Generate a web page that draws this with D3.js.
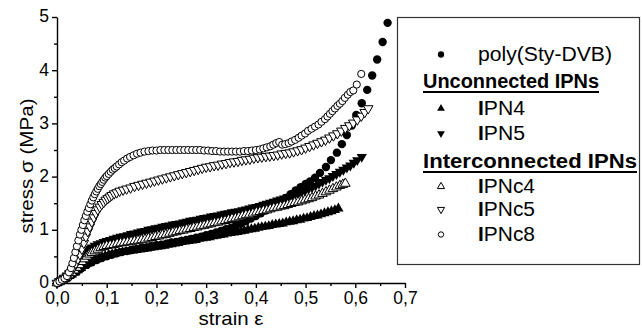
<!DOCTYPE html>
<html><head><meta charset="utf-8">
<script src="https://cdn.jsdelivr.net/npm/d3@7"></script>
<style>body{margin:0;background:#fff}svg{display:block}</style>
</head><body>
<svg id="chart" width="642" height="330"></svg>
<script>
// ---------- data (strain, stress in MPa) ----------
const xTickValues = [0, 0.1, 0.2, 0.3, 0.4, 0.5, 0.6, 0.7];
const xTickLabels = ["0,0", "0,1", "0,2", "0,3", "0,4", "0,5", "0,6", "0,7"];
const yTickValues = [0, 1, 2, 3, 4, 5];
const yTickLabels = ["0", "1", "2", "3", "4", "5"];

const polyStyDVB = [[0,0],[0.01,0.04],[0.02,0.09],[0.03,0.15],[0.04,0.21],[0.05,0.28],[0.06,0.34],[0.07,0.39],[0.08,0.43],[0.09,0.47],[0.10,0.50],[0.11,0.53],[0.12,0.56],[0.13,0.58],[0.14,0.60],[0.15,0.62],[0.16,0.64],[0.17,0.66],[0.18,0.67],[0.19,0.69],[0.20,0.71],[0.21,0.72],[0.22,0.74],[0.23,0.76],[0.24,0.77],[0.25,0.79],[0.26,0.81],[0.27,0.83],[0.28,0.85],[0.29,0.87],[0.30,0.90],[0.31,0.92],[0.32,0.95],[0.33,0.98],[0.34,1.01],[0.35,1.04],[0.36,1.08],[0.37,1.12],[0.38,1.16],[0.39,1.21],[0.40,1.26],[0.41,1.31],[0.42,1.36],[0.43,1.42],[0.44,1.48],[0.45,1.54],[0.46,1.60],[0.47,1.67],[0.48,1.74],[0.49,1.80],[0.500,1.86],[0.509,1.91],[0.519,1.98],[0.529,2.07],[0.541,2.18],[0.551,2.31],[0.563,2.45],[0.573,2.61],[0.583,2.78],[0.593,2.96],[0.602,3.16],[0.613,3.38],[0.624,3.63],[0.634,3.90],[0.644,4.20],[0.655,4.53],[0.665,4.89]];

const ipn4 = [[0,0],[0.006,0.03],[0.012,0.06],[0.018,0.09],[0.024,0.13],[0.030,0.16],[0.036,0.20],[0.042,0.24],[0.048,0.28],[0.054,0.32],[0.060,0.36],[0.066,0.39],[0.072,0.42],[0.078,0.44],[0.084,0.47],[0.090,0.49],[0.097,0.51],[0.104,0.53],[0.111,0.54],[0.118,0.56],[0.125,0.57],[0.132,0.58],[0.139,0.59],[0.146,0.60],[0.153,0.61],[0.160,0.62],[0.167,0.63],[0.174,0.64],[0.181,0.65],[0.188,0.66],[0.195,0.67],[0.202,0.68],[0.209,0.69],[0.216,0.70],[0.223,0.72],[0.230,0.73],[0.237,0.74],[0.244,0.75],[0.251,0.77],[0.258,0.78],[0.265,0.79],[0.272,0.80],[0.279,0.81],[0.286,0.83],[0.293,0.84],[0.300,0.85],[0.307,0.86],[0.314,0.88],[0.321,0.89],[0.328,0.90],[0.335,0.91],[0.342,0.93],[0.349,0.94],[0.356,0.95],[0.363,0.96],[0.370,0.97],[0.377,0.98],[0.384,1.00],[0.391,1.01],[0.398,1.02],[0.405,1.04],[0.412,1.05],[0.419,1.06],[0.426,1.07],[0.433,1.09],[0.440,1.10],[0.447,1.11],[0.454,1.12],[0.461,1.14],[0.468,1.15],[0.475,1.16],[0.482,1.18],[0.489,1.19],[0.496,1.21],[0.503,1.22],[0.510,1.24],[0.517,1.26],[0.524,1.27],[0.531,1.29],[0.538,1.31],[0.545,1.33],[0.552,1.35],[0.559,1.37],[0.566,1.40]];

const ipn5 = [[0,0],[0.005,0.03],[0.010,0.06],[0.015,0.10],[0.020,0.14],[0.025,0.19],[0.030,0.25],[0.035,0.31],[0.040,0.38],[0.045,0.44],[0.050,0.50],[0.055,0.55],[0.060,0.60],[0.065,0.64],[0.070,0.67],[0.076,0.70],[0.082,0.73],[0.088,0.75],[0.094,0.77],[0.100,0.79],[0.107,0.81],[0.114,0.83],[0.121,0.85],[0.128,0.87],[0.135,0.88],[0.142,0.90],[0.149,0.92],[0.156,0.93],[0.163,0.95],[0.170,0.97],[0.177,0.98],[0.184,1.00],[0.191,1.01],[0.198,1.03],[0.205,1.04],[0.212,1.06],[0.219,1.07],[0.226,1.08],[0.233,1.10],[0.240,1.11],[0.247,1.12],[0.254,1.14],[0.261,1.15],[0.268,1.17],[0.275,1.18],[0.282,1.19],[0.289,1.21],[0.296,1.22],[0.303,1.23],[0.310,1.25],[0.317,1.26],[0.324,1.27],[0.331,1.29],[0.338,1.30],[0.345,1.31],[0.352,1.33],[0.359,1.34],[0.366,1.35],[0.373,1.37],[0.380,1.38],[0.387,1.40],[0.394,1.42],[0.401,1.43],[0.408,1.45],[0.415,1.47],[0.422,1.49],[0.429,1.51],[0.436,1.53],[0.443,1.55],[0.450,1.57],[0.457,1.59],[0.464,1.61],[0.471,1.63],[0.478,1.66],[0.485,1.68],[0.492,1.71],[0.499,1.74],[0.506,1.77],[0.513,1.80],[0.520,1.83],[0.527,1.87],[0.534,1.90],[0.541,1.94],[0.548,1.97],[0.555,2.01],[0.562,2.05],[0.569,2.09],[0.576,2.13],[0.583,2.17],[0.590,2.21],[0.597,2.26],[0.604,2.31],[0.613,2.37]];

const ipnc4 = [[0,0],[0.005,0.02],[0.010,0.05],[0.015,0.08],[0.020,0.11],[0.025,0.15],[0.030,0.19],[0.035,0.24],[0.040,0.29],[0.045,0.34],[0.050,0.40],[0.055,0.45],[0.060,0.50],[0.065,0.54],[0.070,0.57],[0.076,0.60],[0.082,0.63],[0.088,0.66],[0.094,0.68],[0.100,0.70],[0.107,0.71],[0.114,0.72],[0.121,0.74],[0.128,0.75],[0.135,0.76],[0.142,0.77],[0.149,0.78],[0.156,0.79],[0.163,0.80],[0.170,0.81],[0.177,0.82],[0.184,0.84],[0.191,0.85],[0.198,0.87],[0.205,0.88],[0.212,0.90],[0.219,0.91],[0.226,0.93],[0.233,0.95],[0.240,0.96],[0.247,0.98],[0.254,0.99],[0.261,1.01],[0.268,1.02],[0.275,1.04],[0.282,1.05],[0.289,1.07],[0.296,1.08],[0.303,1.10],[0.310,1.11],[0.317,1.13],[0.324,1.14],[0.331,1.16],[0.338,1.17],[0.345,1.19],[0.352,1.21],[0.359,1.22],[0.366,1.24],[0.373,1.26],[0.380,1.28],[0.387,1.29],[0.394,1.31],[0.401,1.33],[0.408,1.34],[0.415,1.36],[0.422,1.37],[0.429,1.39],[0.436,1.41],[0.443,1.42],[0.450,1.44],[0.457,1.45],[0.464,1.47],[0.471,1.49],[0.478,1.51],[0.485,1.52],[0.492,1.54],[0.499,1.56],[0.506,1.58],[0.513,1.60],[0.520,1.63],[0.527,1.65],[0.534,1.68],[0.541,1.71],[0.548,1.74],[0.555,1.77],[0.562,1.80],[0.569,1.83],[0.575,1.85],[0.580,1.87]];

const ipnc5 = [[0,0],[0.005,0.03],[0.010,0.06],[0.015,0.09],[0.020,0.12],[0.025,0.17],[0.030,0.23],[0.034,0.30],[0.038,0.37],[0.042,0.45],[0.046,0.54],[0.050,0.64],[0.054,0.75],[0.058,0.87],[0.062,0.97],[0.066,1.06],[0.070,1.15],[0.074,1.23],[0.078,1.31],[0.082,1.38],[0.086,1.43],[0.090,1.48],[0.094,1.52],[0.098,1.56],[0.102,1.59],[0.106,1.62],[0.110,1.65],[0.115,1.68],[0.120,1.70],[0.126,1.73],[0.133,1.75],[0.140,1.77],[0.148,1.79],[0.156,1.82],[0.164,1.84],[0.172,1.86],[0.180,1.88],[0.188,1.90],[0.196,1.92],[0.204,1.94],[0.212,1.96],[0.220,1.98],[0.228,2.00],[0.236,2.02],[0.244,2.04],[0.252,2.06],[0.260,2.08],[0.268,2.10],[0.276,2.12],[0.284,2.14],[0.292,2.16],[0.300,2.18],[0.308,2.19],[0.316,2.21],[0.324,2.22],[0.332,2.24],[0.340,2.25],[0.348,2.27],[0.356,2.28],[0.364,2.29],[0.372,2.31],[0.380,2.32],[0.388,2.33],[0.396,2.35],[0.404,2.36],[0.412,2.37],[0.420,2.38],[0.428,2.39],[0.436,2.40],[0.444,2.41],[0.452,2.43],[0.460,2.44],[0.468,2.45],[0.476,2.47],[0.484,2.49],[0.492,2.51],[0.500,2.54],[0.508,2.57],[0.516,2.60],[0.524,2.63],[0.532,2.66],[0.540,2.69],[0.548,2.73],[0.556,2.77],[0.564,2.81],[0.572,2.86],[0.580,2.91],[0.588,2.96],[0.596,3.01],[0.604,3.07],[0.612,3.14],[0.619,3.21],[0.626,3.28]];

const ipnc8 = [[0,0],[0.005,0.03],[0.010,0.06],[0.015,0.09],[0.020,0.13],[0.024,0.20],[0.028,0.28],[0.031,0.37],[0.034,0.47],[0.037,0.58],[0.040,0.69],[0.043,0.80],[0.046,0.91],[0.049,1.00],[0.052,1.09],[0.055,1.18],[0.058,1.26],[0.061,1.34],[0.064,1.41],[0.067,1.48],[0.070,1.55],[0.073,1.61],[0.076,1.67],[0.079,1.72],[0.082,1.77],[0.085,1.82],[0.088,1.86],[0.091,1.90],[0.094,1.94],[0.097,1.98],[0.100,2.01],[0.104,2.05],[0.108,2.09],[0.112,2.13],[0.116,2.16],[0.120,2.19],[0.125,2.23],[0.130,2.27],[0.135,2.30],[0.141,2.34],[0.147,2.37],[0.154,2.40],[0.161,2.43],[0.168,2.45],[0.176,2.47],[0.184,2.48],[0.192,2.49],[0.200,2.49],[0.208,2.50],[0.216,2.50],[0.224,2.50],[0.232,2.50],[0.240,2.50],[0.248,2.50],[0.256,2.50],[0.264,2.50],[0.272,2.50],[0.280,2.50],[0.288,2.50],[0.296,2.49],[0.304,2.49],[0.312,2.48],[0.320,2.48],[0.328,2.47],[0.336,2.47],[0.344,2.47],[0.352,2.47],[0.360,2.47],[0.368,2.47],[0.376,2.48],[0.384,2.48],[0.392,2.49],[0.400,2.50],[0.408,2.51],[0.415,2.53],[0.422,2.55],[0.429,2.57],[0.435,2.60],[0.441,2.63],[0.447,2.65],[0.453,2.60],[0.459,2.61],[0.466,2.63],[0.472,2.66],[0.479,2.69],[0.486,2.73],[0.492,2.77],[0.499,2.81],[0.505,2.86],[0.512,2.90],[0.519,2.94],[0.526,2.98],[0.532,3.03],[0.539,3.08],[0.544,3.13],[0.549,3.18],[0.554,3.23],[0.559,3.28],[0.564,3.33],[0.569,3.37],[0.574,3.42],[0.579,3.48],[0.585,3.54],[0.590,3.59],[0.596,3.62],[0.603,3.73],[0.612,3.93]];

const seriesNames = ["poly(Sty-DVB)", "IPN4", "IPN5", "IPNc4", "IPNc5", "IPNc8"];
const legendHeaders = ["Unconnected IPNs", "Interconnected IPNs"];

// ---------- drawing ----------
const FONT = "'Liberation Sans', Arial, Helvetica, sans-serif";
const svg = d3.select("#chart");
const x = d3.scaleLinear().domain([0, 0.7]).range([57, 405]);
const y = d3.scaleLinear().domain([0, 5]).range([283, 17]);

// minor ticks
const xMinor = d3.range(0.05, 0.7, 0.1);
const yMinor = d3.range(0.5, 5, 1);
svg.append("g").attr("transform", "translate(0,283)")
  .call(d3.axisBottom(x).tickValues(xMinor).tickSize(3).tickFormat(""))
  .call(g => g.select(".domain").remove());
svg.append("g").attr("transform", "translate(57,0)")
  .call(d3.axisLeft(y).tickValues(yMinor).tickSize(3).tickFormat(""))
  .call(g => g.select(".domain").remove());

const gx = svg.append("g").attr("transform", "translate(0,283)")
  .call(d3.axisBottom(x).tickValues(xTickValues).tickSize(5).tickSizeOuter(0)
    .tickPadding(4).tickFormat((d, i) => xTickLabels[i]));
const gy = svg.append("g").attr("transform", "translate(57,0)")
  .call(d3.axisLeft(y).tickValues(yTickValues).tickSize(5).tickSizeOuter(0)
    .tickPadding(3).tickFormat((d, i) => yTickLabels[i]));
[gx, gy].forEach(g => {
  g.selectAll("text").attr("font-family", FONT).attr("font-size", 17.5).attr("fill", "#000");
  g.selectAll("path").attr("stroke", "#000").attr("stroke-width", 1.4);
});
gy.selectAll("text").attr("dy", "0.28em");
svg.selectAll("g line").attr("stroke", "#000").attr("stroke-width", 1.4);

svg.append("text").attr("x", 231).attr("y", 325).attr("text-anchor", "middle")
  .attr("font-family", FONT).attr("font-size", 19)
  .attr("textLength", 65).attr("lengthAdjust", "spacingAndGlyphs").text("strain ε");
svg.append("text").attr("transform", "translate(33,166) rotate(-90)").attr("text-anchor", "middle")
  .attr("font-family", FONT).attr("font-size", 19)
  .attr("textLength", 135).attr("lengthAdjust", "spacingAndGlyphs").text("stress σ (MPa)");

// markers
const triFilled = d3.symbol().type(d3.symbolTriangle).size(46)();
const triOpen = d3.symbol().type(d3.symbolTriangle).size(40)();
const styles = {
  "poly(Sty-DVB)": {shape: "circle", r: 4.2, fill: "#000", stroke: "none"},
  "IPN4": {shape: "tri", rot: 0, path: triFilled, fill: "#000", stroke: "none"},
  "IPN5": {shape: "tri", rot: 180, path: triFilled, fill: "#000", stroke: "none"},
  "IPNc4": {shape: "tri", rot: 0, path: triOpen, fill: "#fff", stroke: "#000"},
  "IPNc5": {shape: "tri", rot: 180, path: triOpen, fill: "#fff", stroke: "#000"},
  "IPNc8": {shape: "circle", r: 3.6, fill: "#fff", stroke: "#000"}
};
const dataByName = {
  "poly(Sty-DVB)": polyStyDVB, "IPN4": ipn4, "IPN5": ipn5,
  "IPNc4": ipnc4, "IPNc5": ipnc5, "IPNc8": ipnc8
};
const drawOrder = ["poly(Sty-DVB)", "IPN4", "IPN5", "IPNc4", "IPNc5", "IPNc8"];

function drawMarker(g, st, cx, cy, scale) {
  if (st.shape === "circle") {
    g.append("circle").attr("cx", cx).attr("cy", cy).attr("r", st.r * scale)
      .attr("fill", st.fill).attr("stroke", st.stroke).attr("stroke-width", 1);
  } else {
    g.append("path").attr("d", st.path)
      .attr("transform", `translate(${cx},${cy}) rotate(${st.rot}) scale(${scale})`)
      .attr("fill", st.fill).attr("stroke", st.stroke).attr("stroke-width", 1 / scale);
  }
}

const plot = svg.append("g");
drawOrder.forEach(name => {
  const st = styles[name];
  const g = plot.append("g").attr("class", "series");
  dataByName[name].forEach(d => drawMarker(g, st, x(d[0]), y(d[1]), 1));
});

// legend
const lg = svg.append("g");
lg.append("rect").attr("x", 397.5).attr("y", 17.5).attr("width", 242).attr("height", 247)
  .attr("fill", "#fff").attr("stroke", "#333").attr("stroke-width", 1.2);
const rows = [
  {type: "item", name: seriesNames[0], base: 61, len: 134},
  {type: "header", name: legendHeaders[0], base: 88, len: 176},
  {type: "item", name: seriesNames[1], base: 115, len: 47},
  {type: "item", name: seriesNames[2], base: 140, len: 47},
  {type: "header", name: legendHeaders[1], base: 168, len: 214},
  {type: "item", name: seriesNames[3], base: 193, len: 57},
  {type: "item", name: seriesNames[4], base: 216, len: 57},
  {type: "item", name: seriesNames[5], base: 241, len: 57}
];
rows.forEach(r => {
  if (r.type === "header") {
    lg.append("text").attr("x", 423).attr("y", r.base)
      .attr("font-family", FONT).attr("font-size", 19.5).attr("font-weight", "bold")
      .attr("textLength", r.len).attr("lengthAdjust", "spacingAndGlyphs")
      .text(r.name);
    lg.append("line").attr("x1", 423).attr("x2", 423 + r.len)
      .attr("y1", r.base + 4).attr("y2", r.base + 4)
      .attr("stroke", "#000").attr("stroke-width", 2);
  } else {
    drawMarker(lg, styles[r.name], 441, r.base - 6.5, 0.75);
    const t = lg.append("text").attr("x", 478).attr("y", r.base)
      .attr("font-family", FONT).attr("font-size", 19.5)
      .attr("textLength", r.len).attr("lengthAdjust", "spacingAndGlyphs");
    if (r.name.startsWith("IPN")) {
      t.append("tspan").attr("font-weight", "bold").text("I");
      t.append("tspan").text(r.name.slice(1));
    } else {
      t.text(r.name);
    }
  }
});
</script>
</body></html>
